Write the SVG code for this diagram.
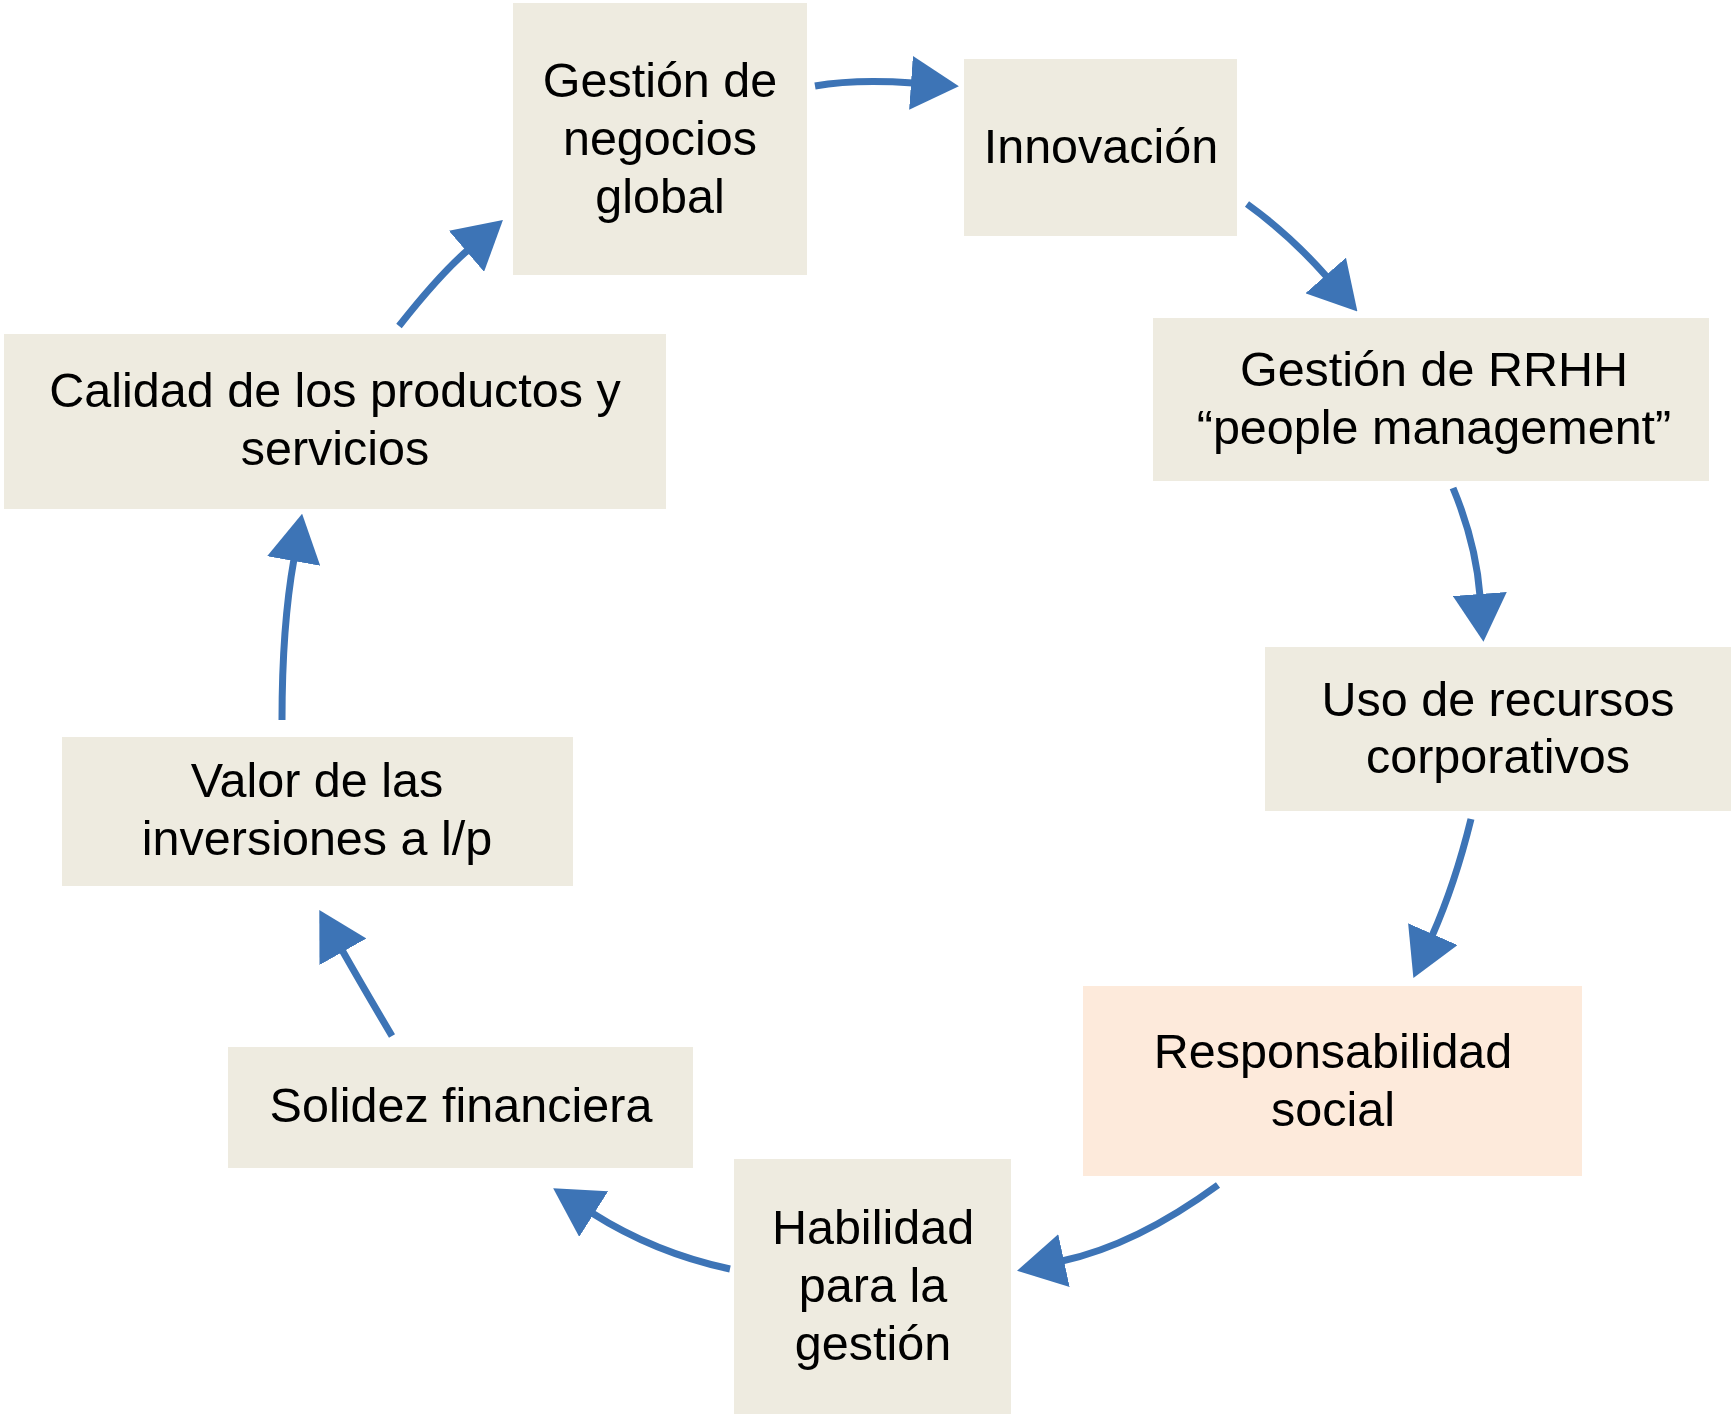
<svg xmlns="http://www.w3.org/2000/svg" width="1734" height="1418" viewBox="0 0 1734 1418">
<style>
.box{fill:#EEEBE0}
.hl{fill:#FDEADB}
.t{font-family:"Liberation Sans",Arial,Helvetica,sans-serif;font-size:48.5px;fill:#000;text-anchor:middle}
.c{fill:none;stroke:#3D74B6;stroke-width:7;marker-end:url(#ah)}
</style>
<defs>
<marker id="ah" markerUnits="userSpaceOnUse" markerWidth="48" markerHeight="54" refX="2" refY="27" orient="auto" viewBox="0 0 48 54">
<path d="M0,0 L48,27 L0,54 z" fill="#3D74B6"/>
</marker>
</defs>
<rect width="1734" height="1418" fill="#fff"/>
<g id="n1"><rect class="box" x="513" y="3" width="294" height="272"/>
<text class="t" x="660" y="97">Gestión de</text><text class="t" x="660" y="155">negocios</text><text class="t" x="660" y="213">global</text></g>
<g id="n2"><rect class="box" x="964" y="59" width="273" height="177"/>
<text class="t" x="1101" y="163">Innovación</text></g>
<g id="n3"><rect class="box" x="1153" y="318" width="556" height="163"/>
<text class="t" x="1434" y="386">Gestión de RRHH</text><text class="t" x="1434" y="444">“people management”</text></g>
<g id="n4"><rect class="box" x="1265" y="647" width="466" height="164"/>
<text class="t" x="1498" y="716">Uso de recursos</text><text class="t" x="1498" y="773">corporativos</text></g>
<g id="n5"><rect class="hl" x="1083" y="986" width="499" height="190"/>
<text class="t" x="1333" y="1068">Responsabilidad</text><text class="t" x="1333" y="1126">social</text></g>
<g id="n6"><rect class="box" x="734" y="1159" width="277" height="255"/>
<text class="t" x="873" y="1244">Habilidad</text><text class="t" x="873" y="1302">para la</text><text class="t" x="873" y="1360">gestión</text></g>
<g id="n7"><rect class="box" x="228" y="1047" width="465" height="121"/>
<text class="t" x="461" y="1122">Solidez financiera</text></g>
<g id="n8"><rect class="box" x="62" y="737" width="511" height="149"/>
<text class="t" x="317" y="797">Valor de las</text><text class="t" x="317" y="855">inversiones a l/p</text></g>
<g id="n9"><rect class="box" x="4" y="334" width="662" height="175"/>
<text class="t" x="335" y="407">Calidad de los productos y</text><text class="t" x="335" y="465">servicios</text></g>
<g id="connectors">
<path class="c" d="M815,86 Q855,79 913,83"/>
<path class="c" d="M1247,204 Q1290,235 1327,277"/>
<path class="c" d="M1453,488 Q1476,543 1480,596"/>
<path class="c" d="M1471,819 Q1455,884 1432,936"/>
<path class="c" d="M1218,1185 Q1136,1245 1062,1261"/>
<path class="c" d="M730,1269 Q655,1253 592,1213"/>
<path class="c" d="M392,1036 Q363,987 342,950"/>
<path class="c" d="M282,720 Q282,626 294,559"/>
<path class="c" d="M399,326 Q440,274 468,250"/>
</g>
</svg>
